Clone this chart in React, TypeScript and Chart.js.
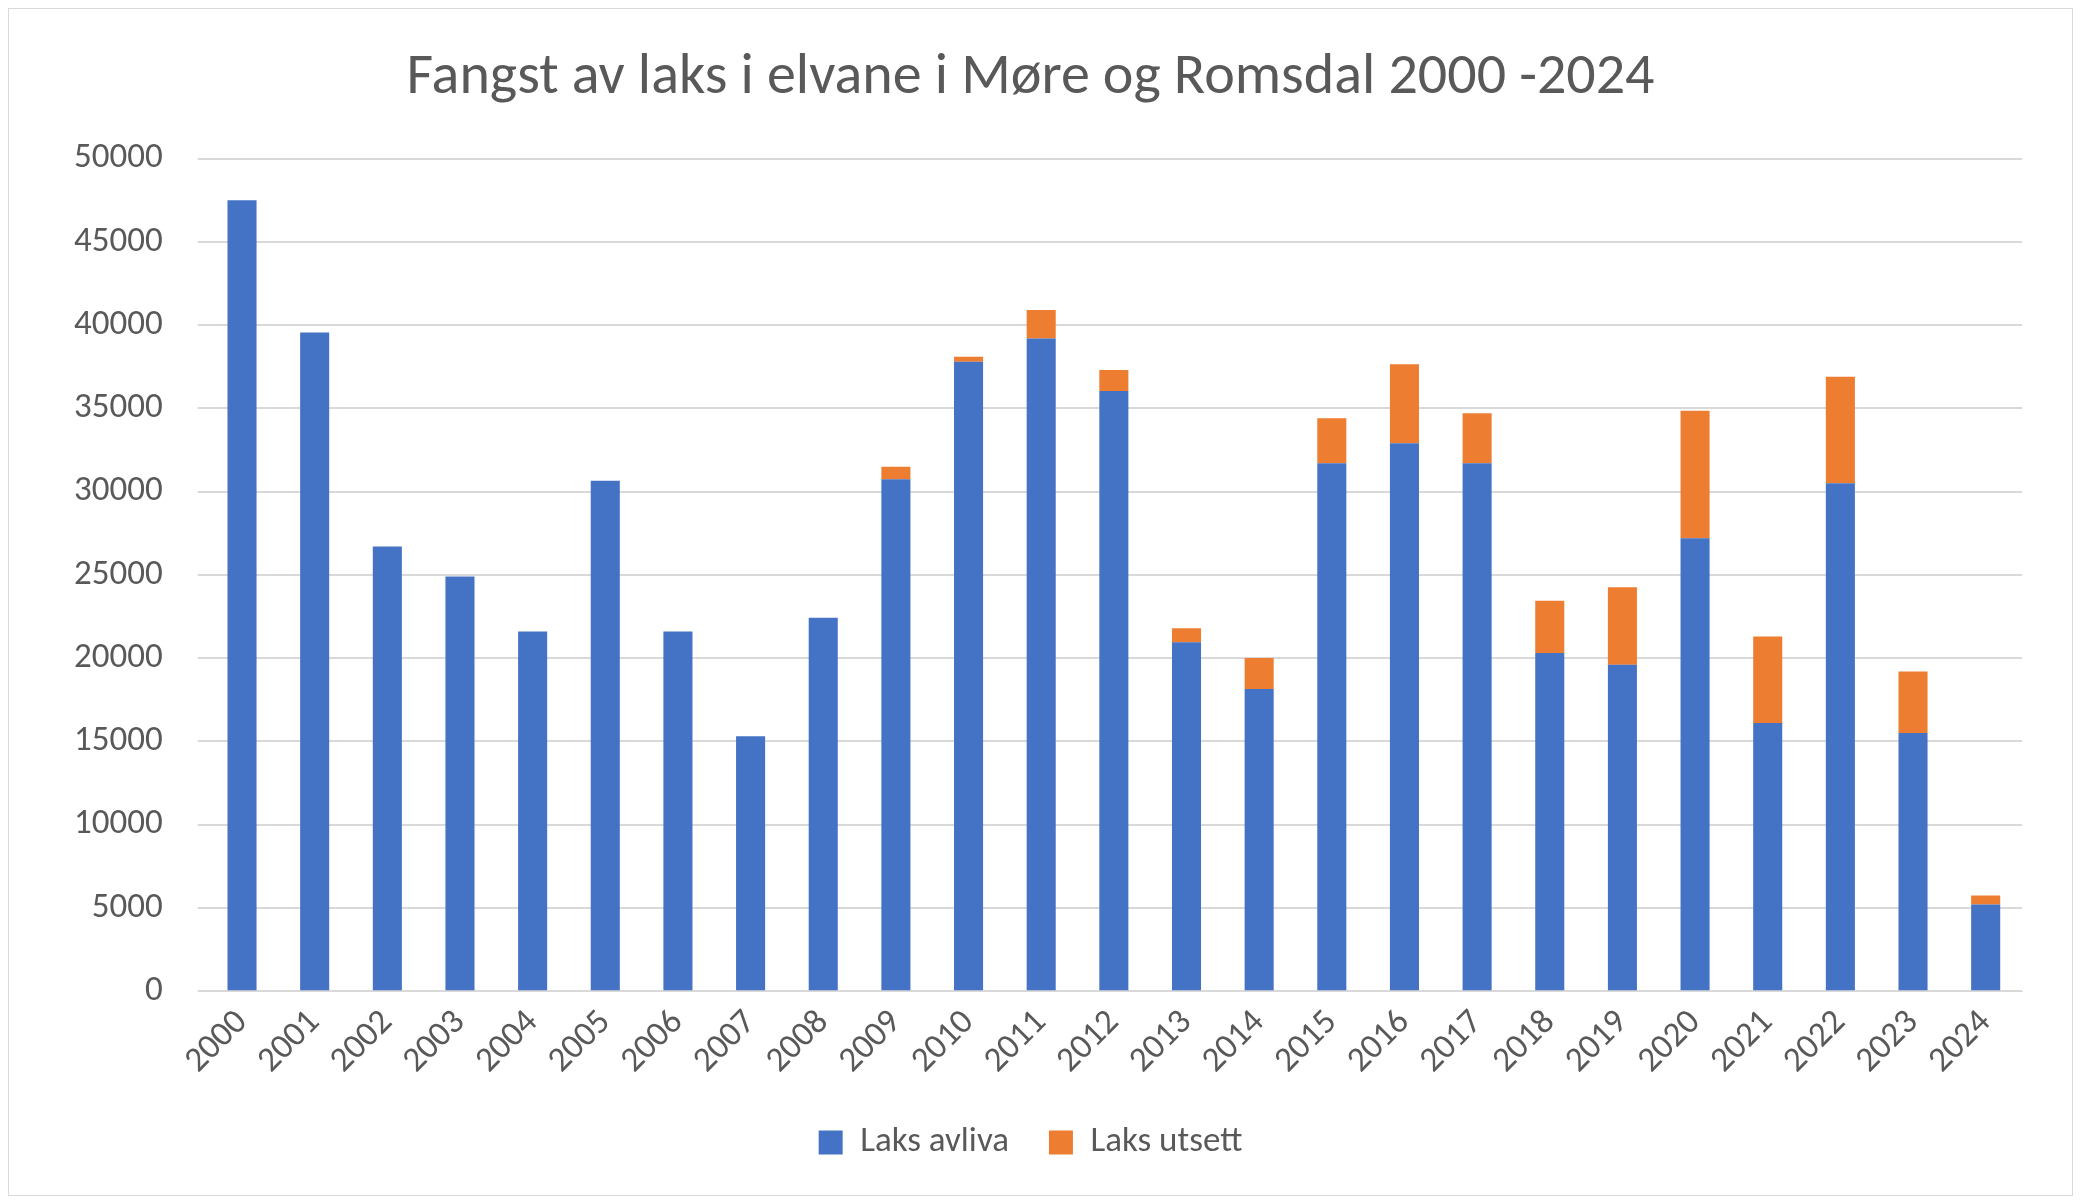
import React, { useEffect, useRef } from "react";
import { Chart, registerables } from "chart.js";
Chart.register(...registerables);

const years = ["2000","2001","2002","2003","2004","2005","2006","2007","2008","2009","2010","2011","2012","2013","2014","2015","2016","2017","2018","2019","2020","2021","2022","2023","2024"];
const avliva = [47500,39550,26700,24900,21600,30650,21600,15300,22430,30740,37800,39200,36050,20950,18150,31700,32900,31700,20300,19600,27200,16100,30500,15500,5200];
const totals = [47500,39550,26700,24900,21600,30650,21600,15300,22430,31500,38100,40900,37300,21800,20000,34400,37650,34700,23450,24250,34850,21300,36900,19200,5750];
const utsett = totals.map((t, i) => t - avliva[i]);

export default function App() {
  const ref = useRef<HTMLCanvasElement>(null);
  useEffect(() => {
    const font = "Calibri, Carlito, 'Open Sans', 'Liberation Sans', sans-serif";
    const c = new Chart(ref.current!, {
      type: "bar",
      data: {
        labels: years,
        datasets: [
          { label: "Laks avliva", data: avliva, backgroundColor: "#4472C4" },
          { label: "Laks utsett", data: utsett, backgroundColor: "#ED7D31" },
        ],
      },
      options: {
        animation: false,
        responsive: false,
        datasets: { bar: { barPercentage: 0.4, categoryPercentage: 1 } },
        layout: { padding: { left: 30, right: 50, top: 10, bottom: 25 } },
        plugins: {
          title: { display: true, text: "Fangst av laks i elvane i Møre og Romsdal 2000 -2024", color: "#595959", font: { family: font, size: 58, weight: "normal" }, padding: { top: 25, bottom: 45 } },
          legend: { position: "bottom", labels: { color: "#595959", font: { family: font, size: 35 }, boxWidth: 24, boxHeight: 24, padding: 40 } },
          tooltip: { enabled: false },
        },
        scales: {
          x: { stacked: true, grid: { display: false }, border: { color: "#d9d9d9" }, ticks: { color: "#595959", font: { family: font, size: 35 }, maxRotation: 45, minRotation: 45 } },
          y: { stacked: true, min: 0, max: 50000, grid: { color: "#d9d9d9", lineWidth: 2 }, border: { display: false }, ticks: { stepSize: 5000, color: "#595959", font: { family: font, size: 35 }, padding: 35, callback: (v: any) => String(v) } },
        },
      },
    });
    return () => c.destroy();
  }, []);
  return (
    <div style={{ width: 2063, height: 1186, border: "1px solid #d9d9d9", background: "#fff" }}>
      <canvas ref={ref} width={2063} height={1186} />
    </div>
  );
}
